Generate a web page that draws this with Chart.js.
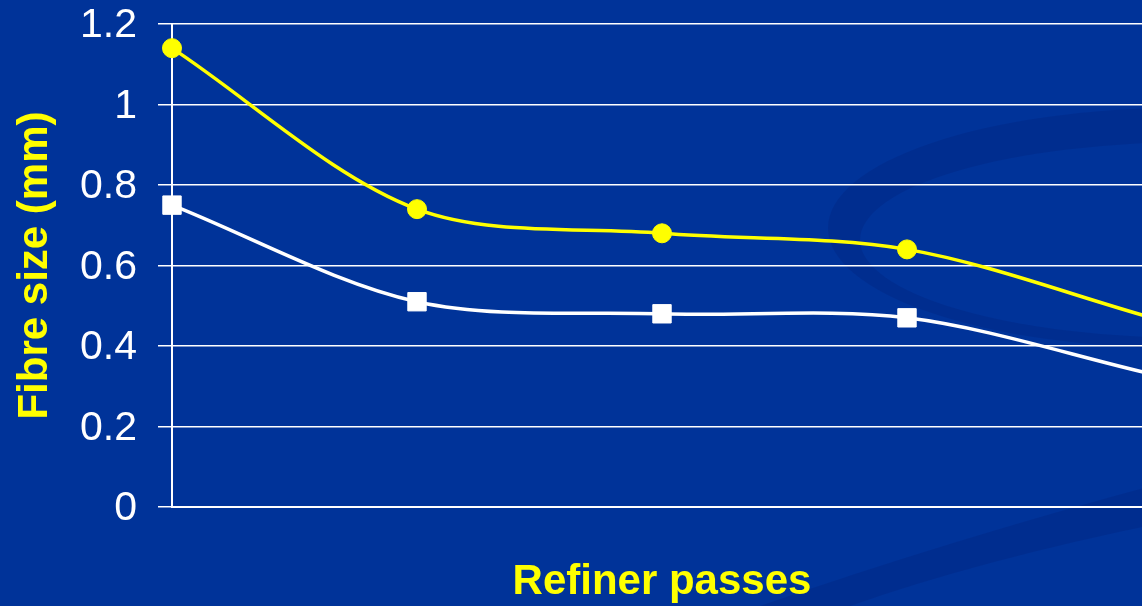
<!DOCTYPE html>
<html>
<head>
<meta charset="utf-8">
<title>Fibre size vs refiner passes</title>
<script src="https://cdn.jsdelivr.net/npm/chart.js@4/dist/chart.umd.min.js"></script>
<style>
  html, body { margin: 0; padding: 0; background: #003399; overflow: hidden; width: 1142px; height: 606px; }
  canvas { display: block; }
</style>
</head>
<body>
<canvas id="chart" width="1166" height="606"></canvas>
<script>
// refiner pass number for each measurement
const passes = [0, 1, 2, 3, 4];
// fibre size (mm), upper yellow curve and lower white curve
const upperSize = [1.14, 0.74, 0.68, 0.64, 0.47];
const lowerSize = [0.75, 0.51, 0.48, 0.47, 0.33];
const yTicks = [0, 0.2, 0.4, 0.6, 0.8, 1, 1.2];

const BG = '#003399';
const YELLOW = '#ffff00';
const WHITE = '#ffffff';
const FONT = 'Arial, "Liberation Sans", sans-serif';

// slide background with the two darker swooshes
const backdrop = {
    id: 'backdrop',
    beforeDraw(chart) {
        const ctx = chart.ctx;
        ctx.save();
        ctx.fillStyle = BG;
        ctx.fillRect(0, 0, chart.width, chart.height);

        ctx.fillStyle = 'rgba(0, 28, 110, 0.22)';
        // crescent on the right
        ctx.beginPath();
        ctx.ellipse(1180, 228, 352, 120, 0, 0, Math.PI * 2);
        ctx.ellipse(1195, 240, 335, 98, 0, 0, Math.PI * 2);
        ctx.fill('evenodd');

        // band along the bottom right
        ctx.beginPath();
        ctx.moveTo(760, 606);
        ctx.quadraticCurveTo(950, 540, 1166, 482);
        ctx.lineTo(1166, 522);
        ctx.quadraticCurveTo(980, 560, 850, 606);
        ctx.closePath();
        ctx.fill();
        ctx.restore();
    }
};

const ctx = document.getElementById('chart');
new Chart(ctx, {
    type: 'line',
    data: {
        datasets: [
            {
                label: 'Upper',
                data: passes.map((p, i) => ({ x: p, y: upperSize[i] })),
                borderColor: YELLOW,
                backgroundColor: YELLOW,
                borderWidth: 3.5,
                pointStyle: 'circle',
                pointRadius: 9.5,
                pointBorderWidth: 1,
                tension: 0.32,
                clip: false
            },
            {
                label: 'Lower',
                data: passes.map((p, i) => ({ x: p, y: lowerSize[i] })),
                borderColor: WHITE,
                backgroundColor: WHITE,
                borderWidth: 3.5,
                pointStyle: 'rect',
                pointRadius: 13,
                pointBorderWidth: 1,
                tension: 0.32,
                clip: false
            }
        ]
    },
    options: {
        responsive: false,
        animation: false,
        devicePixelRatio: 1,
        layout: { padding: { top: 24, right: 0, bottom: 0, left: 0 } },
        plugins: {
            legend: { display: false },
            tooltip: { enabled: false }
        },
        scales: {
            x: {
                type: 'linear',
                min: 0,
                max: 4,
                ticks: { display: false },
                grid: { display: false },
                border: { display: true, color: WHITE, width: 2 },
                title: {
                    display: true,
                    text: 'Refiner passes',
                    color: YELLOW,
                    font: { family: FONT, size: 42, weight: 'bold', lineHeight: 1.1 },
                    padding: 0
                },
                afterFit(scale) { scale.height = 99; }
            },
            y: {
                min: 0,
                max: 1.2,
                afterBuildTicks(scale) { scale.ticks = yTicks.map(v => ({ value: v })); },
                ticks: {
                    color: WHITE,
                    padding: 21,
                    labelOffset: 2,
                    font: { family: FONT, size: 41 },
                    callback: v => String(+v.toFixed(1))
                },
                grid: { color: WHITE, lineWidth: 1.5, tickLength: 14, drawTicks: true },
                border: { display: true, color: WHITE, width: 2 },
                title: {
                    display: true,
                    text: 'Fibre size (mm)',
                    color: YELLOW,
                    font: { family: FONT, size: 42, weight: 'bold', lineHeight: 1.1 },
                    padding: { top: 12, bottom: 0 }
                },
                afterFit(scale) {
                    scale.width = 172;
                    scale.paddingTop = 0;
                    scale.paddingBottom = 0;
                }
            }
        }
    },
    plugins: [backdrop]
});
</script>
</body>
</html>
